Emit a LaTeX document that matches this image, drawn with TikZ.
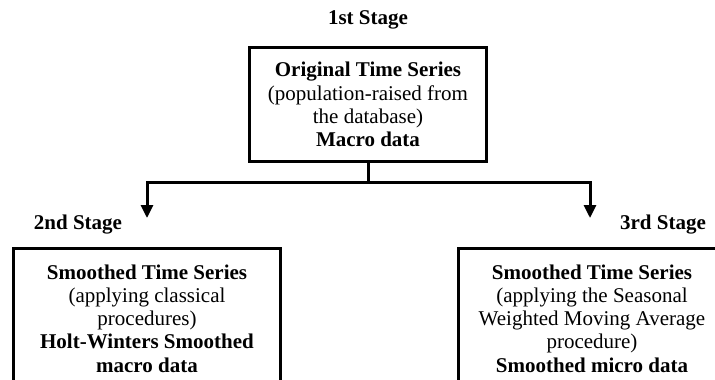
\documentclass[tikz,border=0pt]{standalone}
\usepackage{fontspec}
\setmainfont{Liberation Serif}
\usetikzlibrary{arrows.meta}
\newcommand{\stagefont}{\fontsize{21}{23.3}\selectfont}
\tikzstyle{arrow} = [-{Triangle[length=13pt,width=12pt]}]
\tikzstyle{stagebox} = [draw, line width=3pt, inner sep=0pt, align=center, font=\stagefont]
\tikzstyle{stagelabel} = [inner sep=0pt, font=\stagefont\bfseries]

\begin{document}
\begin{tikzpicture}[x=1pt, y=-1pt, line width=3pt]
	\clip (0,0) rectangle (715,380);

	\node (1label) [stagelabel] at (368,20) {1st Stage};
	\node (1box) [stagebox, minimum width=237pt, minimum height=114pt] at (368,104.5)
		{\textbf{Original Time Series}\\(population-raised from\\the database)\\\textbf{Macro data}};

	\node (2label) [stagelabel] at (78,225) {2nd Stage};
	\node (2box) [stagebox, minimum width=267pt, minimum height=141pt] at (147,318.5)
		{\textbf{Smoothed Time Series}\\(applying classical\\procedures)\\\textbf{Holt-Winters Smoothed}\\\textbf{macro data}};

	\node (3label) [stagelabel] at (663,225) {3rd Stage};
	\node (3box) [stagebox, minimum width=267pt, minimum height=141pt] at (592,318.5)
		{\textbf{Smoothed Time Series}\\(applying the Seasonal\\Weighted Moving Average\\procedure)\\\textbf{Smoothed micro data}};

	\coordinate (split) at (368,182);
	\coordinate (2tip) at (147,218);
	\coordinate (3tip) at (590,218);

	\draw (1box.south) -- (split);
	\draw [arrow] (split) -| (2tip);
	\draw [arrow] (split) -| (3tip);
\end{tikzpicture}
\end{document}
